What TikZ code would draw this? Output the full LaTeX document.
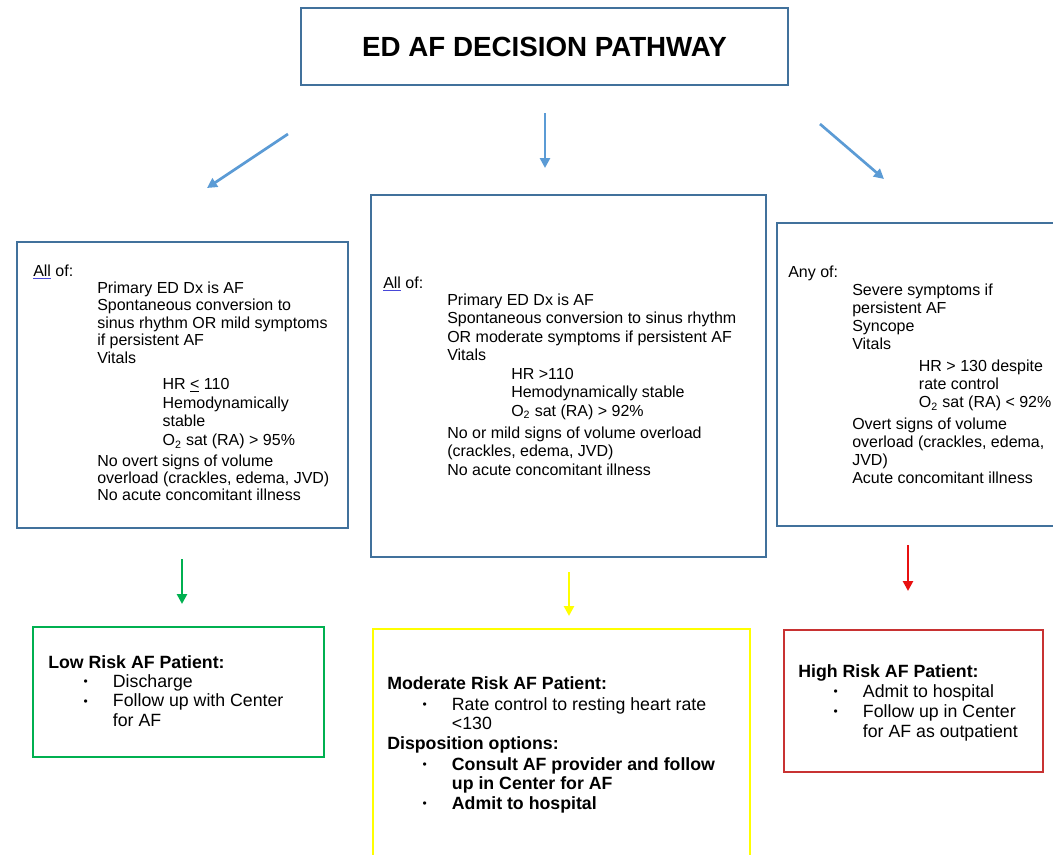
\documentclass[tikz,border=0pt]{standalone}
\usepackage{fontspec}
\setmainfont{Liberation Sans}
\usetikzlibrary{arrows.meta}
\definecolor{boxblue}{HTML}{41719C}
\definecolor{arrblue}{HTML}{5B9BD5}
\definecolor{lowgreen}{HTML}{00B050}
\definecolor{modyellow}{HTML}{FFFF00}
\definecolor{highred}{HTML}{C83232}
\definecolor{arrred}{HTML}{E81010}
\definecolor{spellblue}{HTML}{4848D8}
\newcommand\gramline[1]{\leavevmode\setbox0\hbox{#1}\rlap{\color{spellblue}\rule[-2.4pt]{\wd0}{0.7pt}}#1}
\newcommand\ind{\hspace*{48pt}}
\newcommand\bul{\hspace*{26.5pt}\makebox[22pt][l]{\raisebox{1.2pt}{\fontsize{9}{9}\selectfont•}}}
\begin{document}
\begin{tikzpicture}[x=0.75pt,y=-0.75pt,
  frame/.style={draw=boxblue,line width=1pt},
  flow/.style={draw=arrblue,line width=2pt,-{Triangle[length=7.5pt,width=7.5pt]}},
  body/.style={anchor=base west,inner sep=0pt,align=left},
  outcome/.style={line width=1.2pt}]
\fill[white] (0,0) rectangle (1053,854);
\useasboundingbox (0,0) rectangle (1053,854);

% title
\draw[frame] (301,8) rectangle (788,85);
\node[inner sep=0pt,font=\fontsize{20.8}{24}\selectfont\bfseries] (title) at (544.5,47) {ED AF DECISION PATHWAY};

% top arrows
\coordinate (bl1) at (288,134); \coordinate (bl2) at (207,188);
\coordinate (bm1) at (545,113); \coordinate (bm2) at (545,168);
\coordinate (br1) at (820,124); \coordinate (br2) at (884,179);
\draw[flow] (bl1) -- (bl2);
\draw[flow] (bm1) -- (bm2);
\draw[flow] (br1) -- (br2);

% criteria boxes
\draw[frame] (17,242) rectangle (348,528);
\draw[frame] (371,195) rectangle (766,557);
\draw[frame] (777,223) rectangle (1065,526);

\node[body] (lowcrit) at (33,276) {\parbox[t]{400pt}{\fontsize{12}{13.1}\selectfont
\gramline{All} of:\\
\ind Primary ED Dx is AF\\
\ind Spontaneous conversion to\\
\ind sinus rhythm OR mild symptoms\\
\ind if persistent AF\\
\ind Vitals\\[6.5pt]
\hspace*{97pt}HR \underline{<} 110\\[1.5pt]
\hspace*{97pt}Hemodynamically\\
\hspace*{97pt}stable\\[1.5pt]
\hspace*{97pt}O\textsubscript{2} sat (RA) > 95\%\\[2pt]
\ind No overt signs of volume\\
\ind overload (crackles, edema, JVD)\\
\ind No acute concomitant illness}};

\node[body] (modcrit) at (383,288) {\parbox[t]{400pt}{\fontsize{12}{13.9}\selectfont
\gramline{All} of:\\[-1pt]
\ind Primary ED Dx is AF\\
\ind Spontaneous conversion to sinus rhythm\\
\ind OR moderate symptoms if persistent AF\\
\ind Vitals\\
\hspace*{96pt}HR >110\\
\hspace*{96pt}Hemodynamically stable\\
\hspace*{96pt}O\textsubscript{2} sat (RA) > 92\%\\[2.6pt]
\ind No or mild signs of volume overload\\
\ind (crackles, edema, JVD)\\
\ind No acute concomitant illness}};

\node[body] (highcrit) at (788,277) {\parbox[t]{400pt}{\fontsize{12}{13.5}\selectfont
Any of:\\[0.6pt]
\ind Severe symptoms if\\
\ind persistent AF\\
\ind Syncope\\
\ind Vitals\\[3pt]
\hspace*{98pt}HR > 130 despite\\
\hspace*{98pt}rate control\\
\hspace*{98pt}O\textsubscript{2} sat (RA) < 92\%\\[3pt]
\ind Overt signs of volume\\
\ind overload (crackles, edema,\\
\ind JVD)\\
\ind Acute concomitant illness}};

% bottom arrows
\coordinate (g1) at (182,559); \coordinate (g2) at (182,604);
\coordinate (y1) at (569,572); \coordinate (y2) at (569,616);
\coordinate (r1) at (908,545); \coordinate (r2) at (908,591);
\draw[line width=2pt,draw=lowgreen,-{Triangle[length=7.5pt,width=7.5pt]}] (g1) -- (g2);
\draw[line width=2pt,draw=modyellow,-{Triangle[length=7.5pt,width=7.5pt]}] (y1) -- (y2);
\draw[line width=2pt,draw=arrred,-{Triangle[length=7.5pt,width=7.5pt]}] (r1) -- (r2);

% outcome boxes
\draw[outcome,draw=lowgreen] (33,627) rectangle (324,757);
\draw[outcome,draw=modyellow] (373,629) rectangle (750,870);
\draw[outcome,draw=highred] (784,630) rectangle (1043,772);

\node[body] (lowout) at (48,668) {\parbox[t]{400pt}{\fontsize{13.3}{14.6}\selectfont
\textbf{Low Risk AF Patient:}\\
\bul Discharge\\
\bul Follow up with Center\\
\hspace*{48.5pt}for AF}};

\node[body] (modout) at (387,689) {\parbox[t]{400pt}{\fontsize{13.3}{14.6}\selectfont
\textbf{Moderate Risk AF Patient:}\\[1.5pt]
\bul Rate control to resting heart rate\\
\hspace*{48.5pt}<130\\
\textbf{Disposition options:}\\[1pt]
\bul\textbf{Consult AF provider and follow}\\
\hspace*{48.5pt}\textbf{up in Center for AF}\\
\bul\textbf{Admit to hospital}}};

\node[body] (highout) at (798,677) {\parbox[t]{400pt}{\fontsize{13.3}{15}\selectfont
\textbf{High Risk AF Patient:}\\
\bul Admit to hospital\\
\bul Follow up in Center\\
\hspace*{48.5pt}for AF as outpatient}};
\end{tikzpicture}
\end{document}
